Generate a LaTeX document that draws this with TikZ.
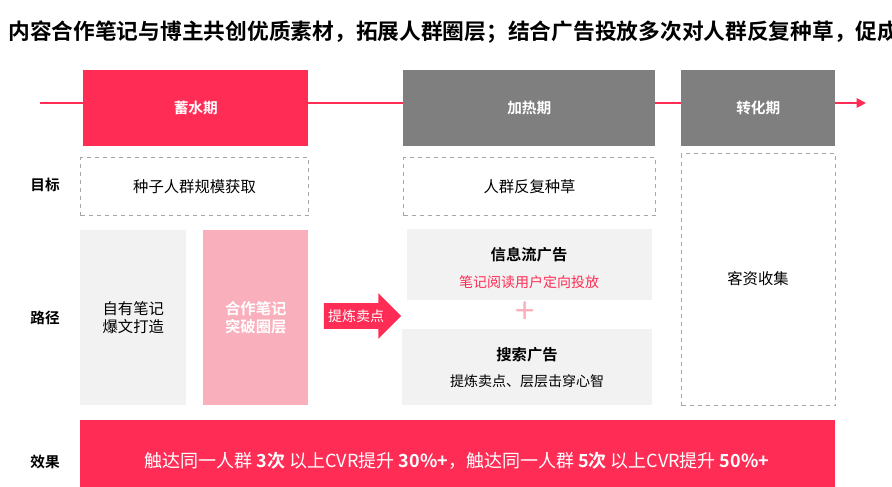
\documentclass[tikz,border=0pt]{standalone}
\usepackage{fontspec}
\setmainfont{Noto Sans CJK SC}
\newfontfamily\cjkb{Noto Sans CJK SC Bold}
\usetikzlibrary{shapes.arrows,arrows.meta}
\definecolor{xred}{HTML}{FF2D55}
\definecolor{xgray}{HTML}{7F7F7F}
\definecolor{xpink}{HTML}{F9AFBC}
\definecolor{xlight}{HTML}{F2F2F2}
\tikzset{
 phase/.style={minimum height=57,text=white,font=\cjkb\fontsize{11}{13}\selectfont,anchor=north west,inner sep=0},
 dbox/.style={draw=gray!70,dashed,thick,anchor=north west,inner sep=0,font=\fontsize{11.5}{14}\selectfont},
 fbox/.style={fill=xlight,anchor=north west,inner sep=0,align=center,font=\fontsize{11.5}{14}\selectfont},
 rowlab/.style={font=\cjkb\fontsize{11}{13}\selectfont}
}
\begin{document}
\begin{tikzpicture}[x=0.75pt,y=-0.75pt]
\useasboundingbox (0,0) rectangle (892,486);
\begin{scope}
\clip (0,0) rectangle (892,486);
\node[anchor=west,font=\cjkb\fontsize{16.3}{18}\selectfont,inner sep=0] (title) at (8,32) {内容合作笔记与博主共创优质素材，拓展人群圈层；结合广告投放多次对人群反复种草，促成转化};
\end{scope}
\coordinate (ls) at (40,103);
\coordinate (le) at (866,103);
\draw[xred,line width=1.5pt,-{Triangle[length=7pt,width=7pt]}] (ls) -- (le);
\node[phase,fill=xred,minimum width=168.75] (p1) at (83,70) {蓄水期};
\node[phase,fill=xgray,minimum width=189] (p2) at (403,70) {加热期};
\node[phase,fill=xgray,minimum width=115.5] (p3) at (681,70) {转化期};
\node[rowlab] (l1) at (45,185) {目标};
\node[rowlab] (l2) at (45,318) {路径};
\node[rowlab] (l3) at (45,462) {效果};
\node[dbox,minimum width=171,minimum height=43.5] (g1) at (80,157) {种子人群规模获取};
\node[dbox,minimum width=189,minimum height=43.5] (g2) at (403,157) {人群反复种草};
\node[dbox,minimum width=115.5,minimum height=189] (g3) at (681,153) {};
\node[font=\fontsize{11.5}{14}\selectfont] (g3t) at (758,279) {客资收集};
\node[fbox,minimum width=79.5,minimum height=131] (r1) at (80,230) {自有笔记\\爆文打造};
\node[fbox,fill=xpink,text=white,font=\cjkb\fontsize{11.5}{14}\selectfont,minimum width=78.75,minimum height=131] (r2) at (203,230) {合作笔记\\突破圈层};
\node[single arrow,fill=xred,text=white,font=\fontsize{10.5}{12}\selectfont,minimum height=58,minimum width=34,single arrow head extend=5,inner sep=1.5pt] (ar) at (356,316) {提炼卖点};
\node[fbox,minimum width=183.75,minimum height=53.25] (i1) at (407,229) {};
\node[font=\cjkb\fontsize{11.5}{14}\selectfont] (i1a) at (529,255) {信息流广告};
\node[text=xred,font=\fontsize{10.5}{12}\selectfont] (i1b) at (529,282) {笔记阅读用户定向投放};
\node[text=xpink,font=\fontsize{26}{26}\selectfont] (plus) at (525,313) {+};
\node[fbox,minimum width=187.5,minimum height=57] (i2) at (402,329) {};
\node[font=\cjkb\fontsize{11.5}{14}\selectfont] (i2a) at (527,355) {搜索广告};
\node[font=\fontsize{10.5}{12}\selectfont] (i2b) at (527,381) {提炼卖点、层层击穿心智};
\node[fill=xred,anchor=north west,minimum width=566.25,minimum height=50,inner sep=0] (bar) at (80,420) {};
\node[text=white,font=\fontsize{13.5}{15}\selectfont] (bt) at (457,461) {触达同一人群 {\cjkb 3次} 以上CVR提升 {\cjkb 30\%+}，触达同一人群 {\cjkb 5次} 以上CVR提升 {\cjkb 50\%+}};
\end{tikzpicture}
\end{document}
